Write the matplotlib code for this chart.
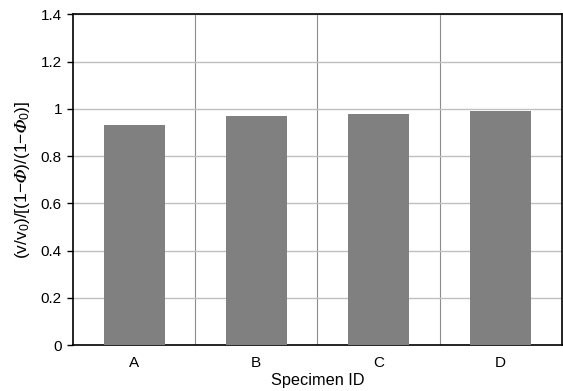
import matplotlib.pyplot as plt
import numpy as np

plt.rcParams['font.family'] = ['Liberation Sans', 'DejaVu Sans']
plt.rcParams['mathtext.fontset'] = 'custom'
plt.rcParams['mathtext.rm'] = 'Liberation Sans'
plt.rcParams['mathtext.it'] = 'Liberation Sans:italic'
plt.rcParams['mathtext.fallback'] = 'stixsans'

specimens = ['A', 'B', 'C', 'D']
ratio = [0.93, 0.97, 0.98, 0.99]

fig = plt.figure(figsize=(5.63, 3.91), dpi=100)
ax = fig.add_axes([0.1297, 0.1176, 0.868, 0.8454])

x = np.arange(len(specimens))
ax.bar(x, ratio, width=0.5, color='#808080', zorder=3)

ax.set_xlim(-0.5, len(specimens) - 0.5)
ax.set_ylim(0, 1.4)
ax.set_yticks(np.arange(0, 1.41, 0.2))
ax.set_yticklabels(['0', '0.2', '0.4', '0.6', '0.8', '1', '1.2', '1.4'])
ax.set_xticks(x)
ax.set_xticklabels(specimens)
ax.set_xticks(x[:-1] + 0.5, minor=True)

ax.grid(axis='y', which='major', color='#c0c0c0', linewidth=1, zorder=0)
ax.grid(axis='x', which='minor', color='#8c8c8c', linewidth=0.8, zorder=0)
ax.tick_params(axis='x', which='both', length=0, labelsize=11, pad=8)
ax.tick_params(axis='y', length=4, width=1, labelsize=11, direction='out', pad=4)

for s in ax.spines.values():
    s.set_linewidth(1.2)
    s.set_color('black')

phi = '\U0001D6F7'
ax.set_xlabel('Specimen ID', fontsize=11.7, labelpad=2)
ax.set_ylabel(r'(v/v$_0$)/[(1$-$' + '$' + phi + '$' + r')/(1$-$' + '$' + phi + r'_0$)]',
              fontsize=12.5, labelpad=6)

fig.savefig('out.png', dpi=100)
